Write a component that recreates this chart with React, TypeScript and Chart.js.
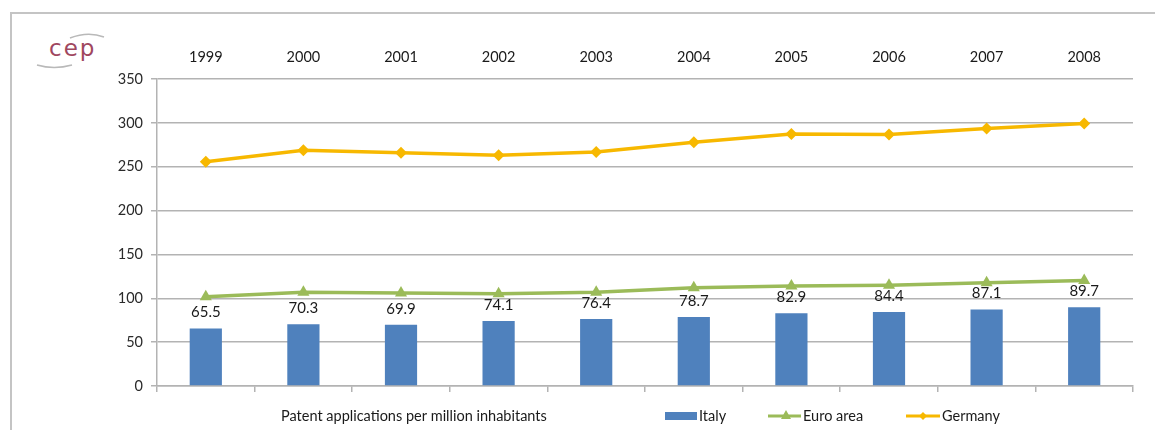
import React, { useEffect, useRef } from "react";
import { Chart, registerables } from "chart.js";

Chart.register(...registerables);

const years = ["1999", "2000", "2001", "2002", "2003", "2004", "2005", "2006", "2007", "2008"];
const italy = [65.5, 70.3, 69.9, 74.1, 76.4, 78.7, 82.9, 84.4, 87.1, 89.7];
const euroArea = [101.8, 107, 106, 105.2, 107, 112, 113.9, 115, 117.7, 120.4];
const germany = [255.6, 268.8, 265.8, 263.1, 266.9, 277.9, 287.4, 286.7, 293.5, 299.2];
const yTicks = [0, 50, 100, 150, 200, 250, 300, 350];

const FONT = "Lato, 'Liberation Sans', sans-serif";
const BLUE = "#4F81BD";
const GREEN = "#9BBB59";
const GOLD = "#F7B800";
const GRID = "#b3b3b3";

const labelsPlugin = {
  id: "barLabels",
  afterDatasetsDraw(chart: any) {
    const ctx = chart.ctx;
    const meta = chart.getDatasetMeta(0);
    ctx.save();
    ctx.font = `15px ${FONT}`;
    ctx.fillStyle = "#1a1a1a";
    ctx.textAlign = "center";
    ctx.textBaseline = "middle";
    meta.data.forEach((bar: any, i: number) => {
      ctx.fillText(String(italy[i]), bar.x, bar.y - 16);
    });
    ctx.restore();
  },
};

const legendPlugin = {
  id: "customLegend",
  afterDraw(chart: any) {
    const ctx = chart.ctx;
    const y = 416;
    ctx.save();
    ctx.font = `14.5px ${FONT}`;
    ctx.fillStyle = "#1a1a1a";
    ctx.textBaseline = "middle";
    ctx.textAlign = "left";
    ctx.fillText("Patent applications per million inhabitants", 281, y);
    // Italy
    ctx.fillStyle = BLUE;
    ctx.fillRect(665, y - 4, 32, 8);
    ctx.fillStyle = "#1a1a1a";
    ctx.fillText("Italy", 699, y);
    // Euro area
    ctx.strokeStyle = GREEN;
    ctx.lineWidth = 3;
    ctx.beginPath();
    ctx.moveTo(768, y);
    ctx.lineTo(801, y);
    ctx.stroke();
    ctx.fillStyle = GREEN;
    ctx.beginPath();
    ctx.moveTo(786, y - 6);
    ctx.lineTo(791, y + 3);
    ctx.lineTo(781, y + 3);
    ctx.closePath();
    ctx.fill();
    ctx.fillStyle = "#1a1a1a";
    ctx.fillText("Euro area", 803, y);
    // Germany
    ctx.strokeStyle = GOLD;
    ctx.beginPath();
    ctx.moveTo(906, y);
    ctx.lineTo(940, y);
    ctx.stroke();
    ctx.fillStyle = GOLD;
    ctx.beginPath();
    ctx.moveTo(923, y - 4);
    ctx.lineTo(927, y);
    ctx.lineTo(923, y + 4);
    ctx.lineTo(919, y);
    ctx.closePath();
    ctx.fill();
    ctx.fillStyle = "#1a1a1a";
    ctx.fillText("Germany", 942, y);
    ctx.restore();
  },
};

export default function App() {
  const ref = useRef<HTMLCanvasElement>(null);

  useEffect(() => {
    if (!ref.current) return;
    const chart = new Chart(ref.current, {
      type: "bar",
      data: {
        labels: years,
        datasets: [
          {
            type: "bar",
            label: "Italy",
            data: italy,
            backgroundColor: BLUE,
            barPercentage: 0.33,
            categoryPercentage: 1,
            order: 3,
            xAxisID: "x",
          },
          {
            type: "line",
            label: "Euro area",
            data: euroArea,
            borderColor: GREEN,
            backgroundColor: GREEN,
            borderWidth: 3.5,
            pointStyle: "triangle",
            pointRadius: 7,
            pointBorderWidth: 0,
            tension: 0,
            order: 2,
            xAxisID: "x",
          },
          {
            type: "line",
            label: "Germany",
            data: germany,
            borderColor: GOLD,
            backgroundColor: GOLD,
            borderWidth: 3.5,
            pointStyle: "rectRot",
            pointRadius: 6,
            pointBorderWidth: 0,
            tension: 0,
            order: 1,
            xAxisID: "x",
          },
        ],
      },
      options: {
        responsive: false,
        animation: false,
        devicePixelRatio: 1,
        layout: { padding: { left: 100, right: 22, top: 0, bottom: 38 } },
        plugins: {
          legend: { display: false },
          tooltip: { enabled: false },
        },
        scales: {
          x: {
            type: "category",
            position: "bottom",
            offset: true,
            grid: {
              offset: true,
              drawOnChartArea: false,
              drawTicks: true,
              tickLength: 6,
              color: GRID,
              lineWidth: 1.5,
            },
            border: { display: true, color: GRID, width: 1.5 },
            ticks: { display: false },
            afterFit: (s: any) => {
              s.height = 6;
            },
          },
          xTop: {
            type: "category",
            position: "top",
            offset: true,
            labels: years,
            grid: { display: false, drawTicks: false },
            border: { display: false },
            ticks: {
              padding: 13,
              color: "#1a1a1a",
              font: { family: FONT, size: 14.5 },
              maxRotation: 0,
            },
            afterFit: (s: any) => {
              s.height = 79;
            },
          },
          y: {
            min: 0,
            max: 350,
            afterBuildTicks: (s: any) => {
              s.ticks = yTicks.map((v) => ({ value: v }));
            },
            grid: {
              color: GRID,
              lineWidth: 1.5,
              drawTicks: true,
              tickLength: 6,
            },
            border: { display: true, color: GRID, width: 1.5 },
            ticks: {
              padding: 8,
              color: "#2a2a2a",
              font: { family: FONT, size: 14.5 },
            },
            afterFit: (s: any) => {
              s.width = 57;
            },
          },
        },
      },
      plugins: [labelsPlugin, legendPlugin],
    });
    return () => chart.destroy();
  }, []);

  return (
    <div
      style={{
        position: "fixed",
        left: 0,
        top: 0,
        width: 1155,
        height: 430,
        overflow: "hidden",
        background: "#fff",
      }}
    >
      <div
        style={{
          position: "absolute",
          left: 10,
          top: 12,
          width: 1160,
          height: 440,
          borderLeft: "2px solid #c4c4c4",
          borderTop: "2px solid #c4c4c4",
        }}
      />
      <svg
        width={90}
        height={50}
        style={{ position: "absolute", left: 30, top: 28 }}
      >
        <path d="M 40 10 Q 58 3 74 9" stroke="#b9b9b9" strokeWidth={1.5} fill="none" />
        <path d="M 7 37 Q 24 42 42 37" stroke="#b9b9b9" strokeWidth={1.5} fill="none" />
      </svg>
      <div
        style={{
          position: "absolute",
          left: 49,
          top: 35,
          fontFamily: "'DejaVu Sans', sans-serif",
          fontSize: 23,
          letterSpacing: 2,
          color: "#a0475f",
          lineHeight: "26px",
        }}
      >
        cep
      </div>
      <canvas
        ref={ref}
        width={1155}
        height={430}
        style={{ position: "absolute", left: 0, top: 0 }}
      />
    </div>
  );
}
